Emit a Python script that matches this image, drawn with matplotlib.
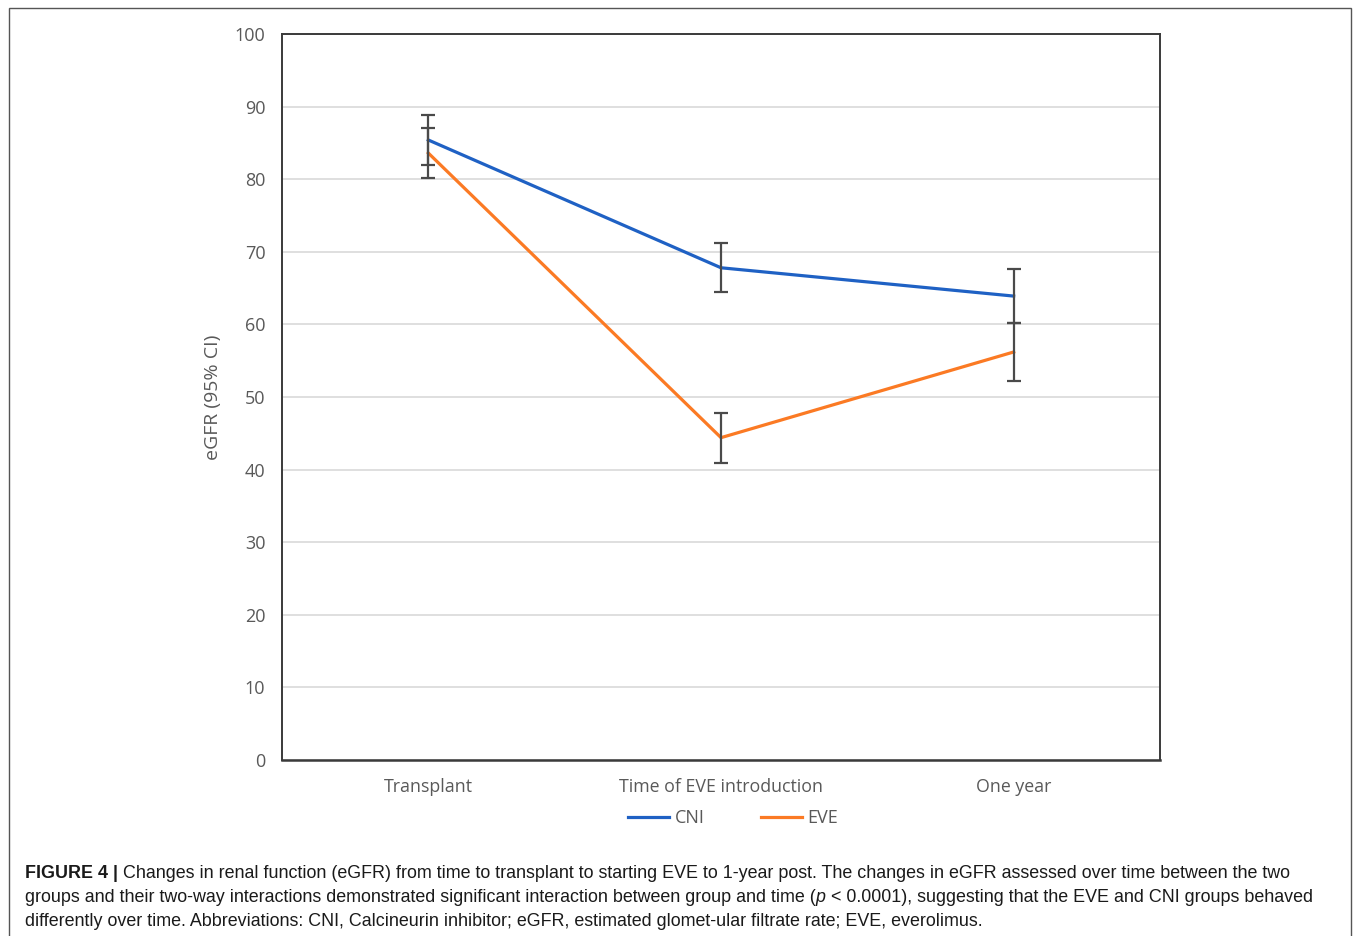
import matplotlib
matplotlib.use("Agg")
import matplotlib.pyplot as plt
from matplotlib.patches import Rectangle

categories = ["Transplant", "Time of EVE introduction", "One year"]
cni_mean = [85.4, 67.8, 63.9]
cni_err = [3.4, 3.4, 3.7]
eve_mean = [83.6, 44.4, 56.2]
eve_err = [3.5, 3.45, 4.0]
yticks = [0, 10, 20, 30, 40, 50, 60, 70, 80, 90, 100]

CNI_COLOR = "#1f61c4"
EVE_COLOR = "#fb7a24"
ERR_COLOR = "#4a4a4a"
TXT = "#595959"
chart_font = ["Open Sans", "DejaVu Sans"]
cap_font = ["Liberation Sans", "DejaVu Sans"]

fig = plt.figure(figsize=(13.55, 9.36), dpi=100)
fig.patch.set_facecolor("white")

# outer frame
fig.add_artist(Rectangle((9/1355, -0.01), (1351-9)/1355, 1 - 8/936 + 0.01,
                         transform=fig.transFigure, fill=False,
                         edgecolor="#555555", linewidth=1.0))

ax = fig.add_axes([282/1355, 1-760/936, (1160-282)/1355, (760-34)/936])
x = [i + 0.5 for i in range(len(categories))]

ax.set_xlim(0, 3)
ax.set_ylim(0, 100)
ax.set_yticks(yticks)
ax.set_yticklabels([str(t) for t in yticks], fontfamily=chart_font, fontsize=13, color=TXT)
ax.set_xticks(x)
ax.set_xticklabels(categories, fontfamily=chart_font, fontsize=12.8, color=TXT)
ax.tick_params(axis="both", length=0, pad=12)
ax.tick_params(axis="x", pad=13)
ax.grid(axis="y", color="#d9d9d9", linewidth=1.2)
ax.set_axisbelow(True)
for s in ax.spines.values():
    s.set_color("#3a3a3a")
    s.set_linewidth(1.4)
ax.spines["bottom"].set_linewidth(1.8)

ax.set_ylabel("eGFR (95% CI)", fontfamily=chart_font, fontsize=14, color=TXT, labelpad=9)

l1, = ax.plot(x, cni_mean, color=CNI_COLOR, linewidth=2.3, label="CNI", zorder=3)
l2, = ax.plot(x, eve_mean, color=EVE_COLOR, linewidth=2.3, label="EVE", zorder=3)
ax.errorbar(x, cni_mean, yerr=cni_err, fmt="none", ecolor=ERR_COLOR, elinewidth=1.6,
            capsize=5, capthick=1.6, zorder=4)
ax.errorbar(x, eve_mean, yerr=eve_err, fmt="none", ecolor=ERR_COLOR, elinewidth=1.6,
            capsize=5, capthick=1.6, zorder=4)

leg = fig.legend(handles=[l1, l2], labels=["CNI", "EVE"], loc="center",
                 bbox_to_anchor=(733/1355, 1-818/936), ncol=2, frameon=False,
                 prop={"family": chart_font, "size": 13}, handlelength=2.3,
                 handletextpad=0.3, columnspacing=3.1)
for t in leg.get_texts():
    t.set_color(TXT)

# caption
fig.canvas.draw()
renderer = fig.canvas.get_renderer()
cap_size = 12.9

def write_line(segments, x0_px, y_px):
    xp = x0_px
    for txt, weight, style in segments:
        t = fig.text(xp/1355, 1-y_px/936, txt, fontfamily=cap_font, fontsize=cap_size,
                     fontweight=weight, fontstyle=style, color="#1a1a1a",
                     ha="left", va="baseline")
        bb = t.get_window_extent(renderer=renderer)
        xp += bb.width

write_line([("FIGURE 4 | ", "bold", "normal"),
            ("Changes in renal function (eGFR) from time to transplant to starting EVE to 1-year post. "
             "The changes in eGFR assessed over time between the two", "normal", "normal")], 25, 878)
write_line([("groups and their two-way interactions demonstrated significant interaction between group and time (", "normal", "normal"),
            ("p", "normal", "italic"),
            (" < 0.0001), suggesting that the EVE and CNI groups behaved", "normal", "normal")], 25, 902)
write_line([("differently over time. Abbreviations: CNI, Calcineurin inhibitor; eGFR, estimated glomet-ular filtrate rate; EVE, everolimus.", "normal", "normal")], 25, 926)

fig.savefig("out.png", dpi=100, facecolor="white")
